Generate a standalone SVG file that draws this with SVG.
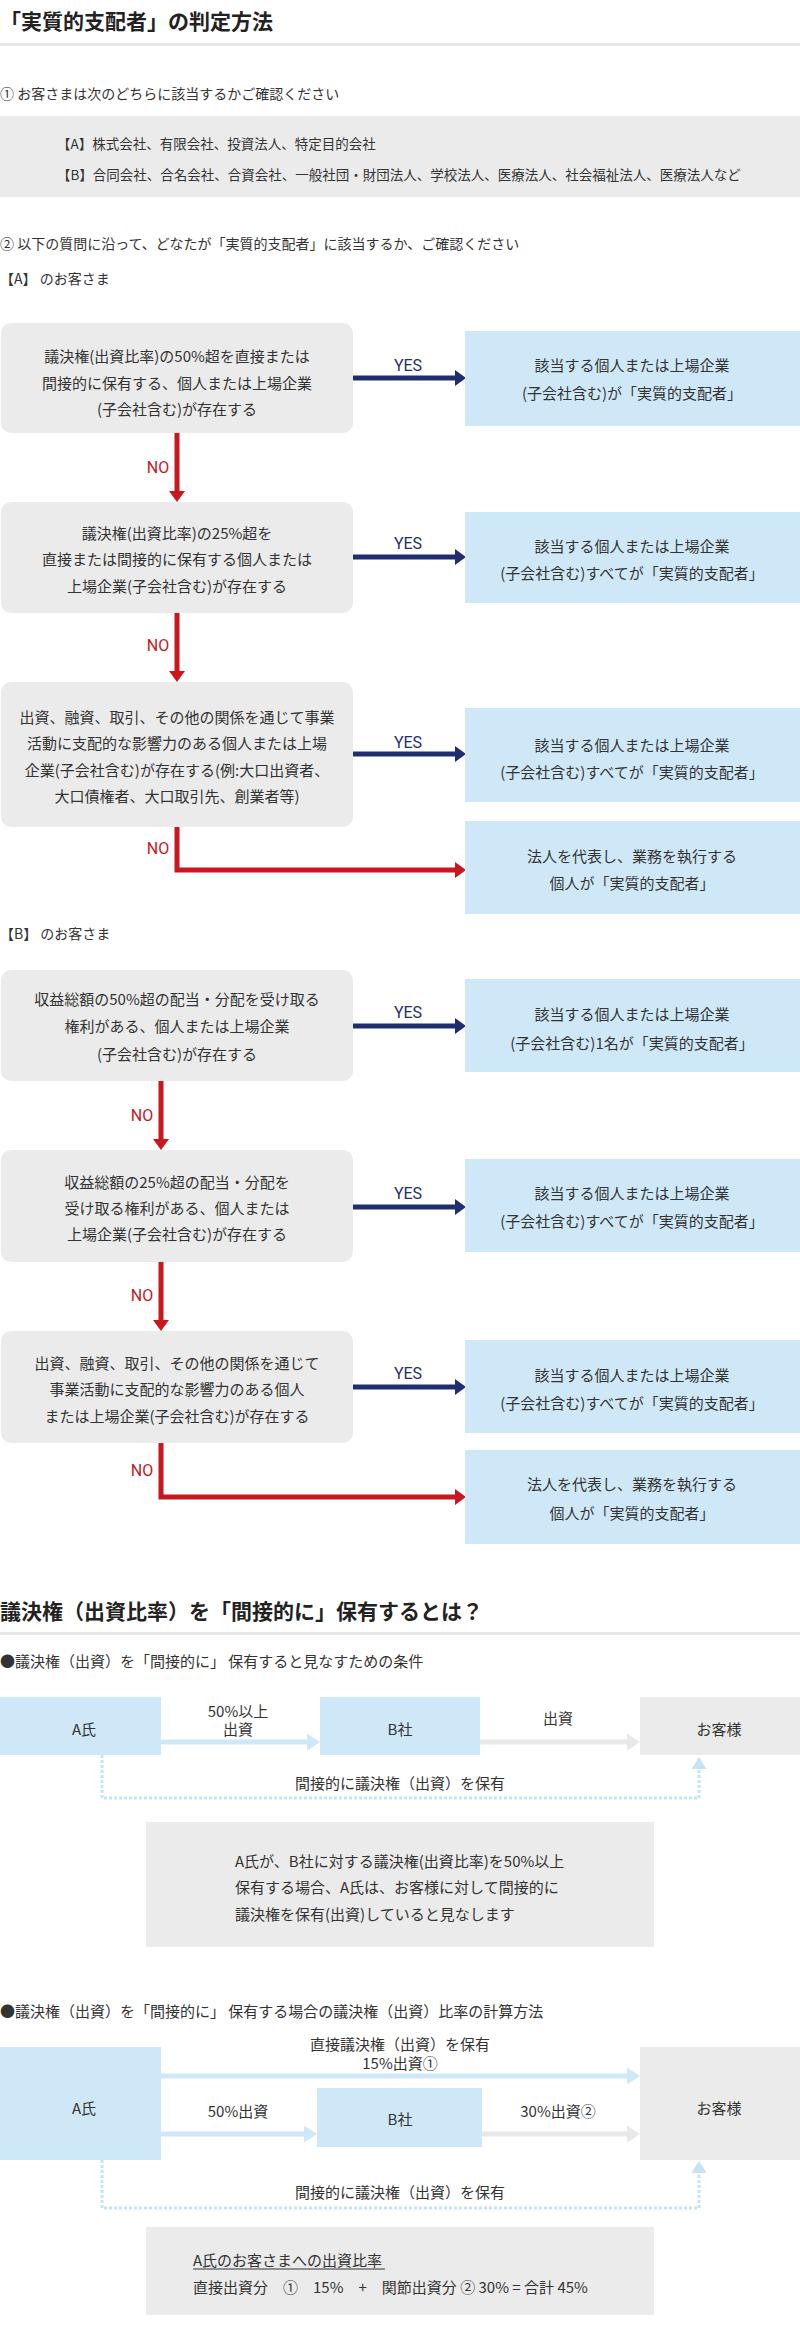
<svg xmlns="http://www.w3.org/2000/svg" width="800" height="2326" viewBox="0 0 800 2326">
<style>
text{font-family:"Noto Sans CJK JP","Noto Sans",sans-serif;fill:#333;dominant-baseline:central}
.h1{font-size:21px;font-weight:700;fill:#222}
.s14{font-size:14px}
.s15{font-size:15px}
.s135{font-size:13.5px}
.c{text-anchor:middle;font-size:15px}
.gray{fill:#ebebeb}
.blue{fill:#cfe8f8}
.sep{fill:#e6e6e6}
.yes{font-family:Roboto,"Liberation Sans",sans-serif;font-size:16px;fill:#1f2e6e;text-anchor:middle}
.no{font-family:Roboto,"Liberation Sans",sans-serif;font-size:16px;fill:#c8171e;text-anchor:middle}
.ay{fill:none;stroke:#1f2e6e;stroke-width:5}
.an{fill:none;stroke:#c8171e;stroke-width:5}
.ab{fill:none;stroke:#cfe8f8;stroke-width:5}
.ag{fill:none;stroke:#e8e8e8;stroke-width:5}
.ad{fill:none;stroke:#c6e3f6;stroke-width:3;stroke-dasharray:3 2}
</style>
<defs>
<marker id="mY" markerUnits="userSpaceOnUse" markerWidth="11" markerHeight="16" refX="0" refY="8" orient="auto" viewBox="0 0 11 16"><path d="M0,0L11,8L0,16z" fill="#1f2e6e"/></marker>
<marker id="mN" markerUnits="userSpaceOnUse" markerWidth="11" markerHeight="16" refX="0" refY="8" orient="auto" viewBox="0 0 11 16"><path d="M0,0L11,8L0,16z" fill="#c8171e"/></marker>
<marker id="mB" markerUnits="userSpaceOnUse" markerWidth="13" markerHeight="17" refX="0" refY="8.5" orient="auto" viewBox="0 0 13 17"><path d="M0,0L13,8.5L0,17z" fill="#cfe8f8"/></marker>
<marker id="mG" markerUnits="userSpaceOnUse" markerWidth="13" markerHeight="17" refX="0" refY="8.5" orient="auto" viewBox="0 0 13 17"><path d="M0,0L13,8.5L0,17z" fill="#e8e8e8"/></marker>
<marker id="mD" markerUnits="userSpaceOnUse" markerWidth="12" markerHeight="15" refX="0" refY="7.5" orient="auto" viewBox="0 0 12 15"><path d="M0,0L12,7.5L0,15z" fill="#c6e3f6"/></marker>
</defs>

<g id="header1">
<text class="h1" x="0" y="20">「実質的支配者」の判定方法</text>
<rect class="sep" x="0" y="43" width="800" height="3"/>
<text class="s14" x="0" y="93">① お客さまは次のどちらに該当するかご確認ください</text>
<rect class="gray" x="0" y="116" width="800" height="81"/>
<text class="s135" x="57" y="143">【A】株式会社、有限会社、投資法人、特定目的会社</text>
<text class="s135" x="57" y="174">【B】合同会社、合名会社、合資会社、一般社団・財団法人、学校法人、医療法人、社会福祉法人、医療法人など</text>
<text class="s14" x="0" y="243">② 以下の質問に沿って、どなたが「実質的支配者」に該当するか、ご確認ください</text>
<text class="s14" x="0" y="278">【A】 のお客さま</text>
</g>

<g id="connectors">
<path class="ay" d="M353,378H455" marker-end="url(#mY)"/>
<path class="ay" d="M353,557H455" marker-end="url(#mY)"/>
<path class="ay" d="M353,754H455" marker-end="url(#mY)"/>
<path class="an" d="M177,433V491" marker-end="url(#mN)"/>
<path class="an" d="M177,613V671" marker-end="url(#mN)"/>
<path class="an" d="M177,827V870H455" marker-end="url(#mN)"/>
<path class="ay" d="M353,1026H455" marker-end="url(#mY)"/>
<path class="ay" d="M353,1207H455" marker-end="url(#mY)"/>
<path class="ay" d="M353,1387H455" marker-end="url(#mY)"/>
<path class="an" d="M161,1081V1139" marker-end="url(#mN)"/>
<path class="an" d="M161,1262V1320" marker-end="url(#mN)"/>
<path class="an" d="M161,1443V1497H455" marker-end="url(#mN)"/>
<path class="ab" d="M161,1742H307" marker-end="url(#mB)"/>
<path class="ag" d="M480,1742H627" marker-end="url(#mG)"/>
<path class="ad" d="M102,1755V1798H699V1769" marker-end="url(#mD)"/>
<path class="ab" d="M161,2076H627" marker-end="url(#mB)"/>
<path class="ab" d="M161,2134H304" marker-end="url(#mB)"/>
<path class="ag" d="M482,2134H627" marker-end="url(#mG)"/>
<path class="ad" d="M102,2160V2208H699V2173" marker-end="url(#mD)"/>
<text class="yes" x="408" y="365">YES</text>
<text class="yes" x="408" y="543">YES</text>
<text class="yes" x="408" y="742">YES</text>
<text class="no" x="158" y="467">NO</text>
<text class="no" x="158" y="645">NO</text>
<text class="no" x="158" y="848">NO</text>
<text class="yes" x="408" y="1012">YES</text>
<text class="yes" x="408" y="1193">YES</text>
<text class="yes" x="408" y="1373">YES</text>
<text class="no" x="142" y="1115">NO</text>
<text class="no" x="142" y="1295">NO</text>
<text class="no" x="142" y="1470">NO</text>
<text class="c" x="238" y="1710">50%以上</text>
<text class="c" x="238" y="1728">出資</text>
<text class="c" x="558" y="1717">出資</text>
<text class="c" x="400" y="1782">間接的に議決権（出資）を保有</text>
<text class="c" x="400" y="2043">直接議決権（出資）を保有</text>
<text class="c" x="400" y="2062">15%出資①</text>
<text class="c" x="238" y="2110">50%出資</text>
<text class="c" x="558" y="2110">30%出資②</text>
<text class="c" x="400" y="2191">間接的に議決権（出資）を保有</text>
</g>

<g id="qA1"><rect class="gray" x="1" y="323" width="352" height="110" rx="10"/>
<text class="c" x="177" y="355">議決権(出資比率)の50%超を直接または</text>
<text class="c" x="177" y="382">間接的に保有する、個人または上場企業</text>
<text class="c" x="177" y="408">(子会社含む)が存在する</text></g>
<g id="rA1"><rect class="blue" x="465" y="331" width="335" height="95"/>
<text class="c" x="632" y="364">該当する個人または上場企業</text>
<text class="c" x="632" y="392">(子会社含む)が「実質的支配者」</text></g>

<g id="qA2"><rect class="gray" x="1" y="502" width="352" height="111" rx="10"/>
<text class="c" x="177" y="532">議決権(出資比率)の25%超を</text>
<text class="c" x="177" y="558">直接または間接的に保有する個人または</text>
<text class="c" x="177" y="585">上場企業(子会社含む)が存在する</text></g>
<g id="rA2"><rect class="blue" x="465" y="512" width="335" height="91"/>
<text class="c" x="632" y="545">該当する個人または上場企業</text>
<text class="c" x="632" y="572">(子会社含む)すべてが「実質的支配者」</text></g>

<g id="qA3"><rect class="gray" x="1" y="682" width="352" height="145" rx="10"/>
<text class="c" x="177" y="716">出資、融資、取引、その他の関係を通じて事業</text>
<text class="c" x="177" y="742">活動に支配的な影響力のある個人または上場</text>
<text class="c" x="177" y="769">企業(子会社含む)が存在する(例:大口出資者、</text>
<text class="c" x="177" y="795">大口債権者、大口取引先、創業者等)</text></g>
<g id="rA3"><rect class="blue" x="465" y="708" width="335" height="94"/>
<text class="c" x="632" y="744">該当する個人または上場企業</text>
<text class="c" x="632" y="771">(子会社含む)すべてが「実質的支配者」</text></g>

<g id="rA4"><rect class="blue" x="465" y="821" width="335" height="93"/>
<text class="c" x="632" y="855">法人を代表し、業務を執行する</text>
<text class="c" x="632" y="882">個人が「実質的支配者」</text></g>

<g id="headerB"><text class="s14" x="0" y="933">【B】 のお客さま</text></g>

<g id="qB1"><rect class="gray" x="1" y="970" width="352" height="111" rx="10"/>
<text class="c" x="177" y="998">収益総額の50%超の配当・分配を受け取る</text>
<text class="c" x="177" y="1025">権利がある、個人または上場企業</text>
<text class="c" x="177" y="1053">(子会社含む)が存在する</text></g>
<g id="rB1"><rect class="blue" x="465" y="979" width="335" height="93"/>
<text class="c" x="632" y="1013">該当する個人または上場企業</text>
<text class="c" x="632" y="1042">(子会社含む)1名が「実質的支配者」</text></g>

<g id="qB2"><rect class="gray" x="1" y="1150" width="352" height="112" rx="10"/>
<text class="c" x="177" y="1181">収益総額の25%超の配当・分配を</text>
<text class="c" x="177" y="1207">受け取る権利がある、個人または</text>
<text class="c" x="177" y="1233">上場企業(子会社含む)が存在する</text></g>
<g id="rB2"><rect class="blue" x="465" y="1159" width="335" height="93"/>
<text class="c" x="632" y="1192">該当する個人または上場企業</text>
<text class="c" x="632" y="1220">(子会社含む)すべてが「実質的支配者」</text></g>

<g id="qB3"><rect class="gray" x="1" y="1331" width="352" height="112" rx="10"/>
<text class="c" x="177" y="1362">出資、融資、取引、その他の関係を通じて</text>
<text class="c" x="177" y="1388">事業活動に支配的な影響力のある個人</text>
<text class="c" x="177" y="1415">または上場企業(子会社含む)が存在する</text></g>
<g id="rB3"><rect class="blue" x="465" y="1340" width="335" height="93"/>
<text class="c" x="632" y="1374">該当する個人または上場企業</text>
<text class="c" x="632" y="1402">(子会社含む)すべてが「実質的支配者」</text></g>

<g id="rB4"><rect class="blue" x="465" y="1450" width="335" height="94"/>
<text class="c" x="632" y="1483">法人を代表し、業務を執行する</text>
<text class="c" x="632" y="1512">個人が「実質的支配者」</text></g>

<g id="header2">
<text class="h1" x="0" y="1610">議決権（出資比率）を「間接的に」保有するとは？</text>
<rect class="sep" x="0" y="1632" width="800" height="3"/>
<text class="s15" x="0" y="1660">●議決権（出資）を「間接的に」 保有すると見なすための条件</text>
</g>

<g id="f1A"><rect class="blue" x="0" y="1697" width="161" height="58"/><text class="c" x="84" y="1728">A氏</text></g>
<g id="f1B"><rect class="blue" x="320" y="1697" width="160" height="58"/><text class="c" x="400" y="1728">B社</text></g>
<g id="f1C"><rect class="gray" x="640" y="1697" width="160" height="58"/><text class="c" x="719" y="1728">お客様</text></g>

<g id="note1"><rect class="gray" x="146" y="1822" width="508" height="125"/>
<text class="s15" x="235" y="1860">A氏が、B社に対する議決権(出資比率)を50%以上</text>
<text class="s15" x="235" y="1886">保有する場合、A氏は、お客様に対して間接的に</text>
<text class="s15" x="235" y="1913">議決権を保有(出資)していると見なします</text></g>

<g id="header3"><text class="s15" x="0" y="2010">●議決権（出資）を「間接的に」 保有する場合の議決権（出資）比率の計算方法</text></g>

<g id="f2A"><rect class="blue" x="0" y="2047" width="161" height="113"/><text class="c" x="84" y="2107">A氏</text></g>
<g id="f2B"><rect class="blue" x="317" y="2088" width="165" height="59"/><text class="c" x="400" y="2118">B社</text></g>
<g id="f2C"><rect class="gray" x="640" y="2047" width="160" height="113"/><text class="c" x="719" y="2107">お客様</text></g>

<g id="note2"><rect class="gray" x="146" y="2227" width="508" height="88"/>
<text class="s15" x="193" y="2259">A氏のお客さまへの出資比率</text>
<line x1="193" y1="2269" x2="385" y2="2269" stroke="#333" stroke-width="1"/>
<text class="s15" x="193" y="2286">直接出資分　①　15%　+　関節出資分 ② 30% = 合計 45%</text></g>
</svg>
